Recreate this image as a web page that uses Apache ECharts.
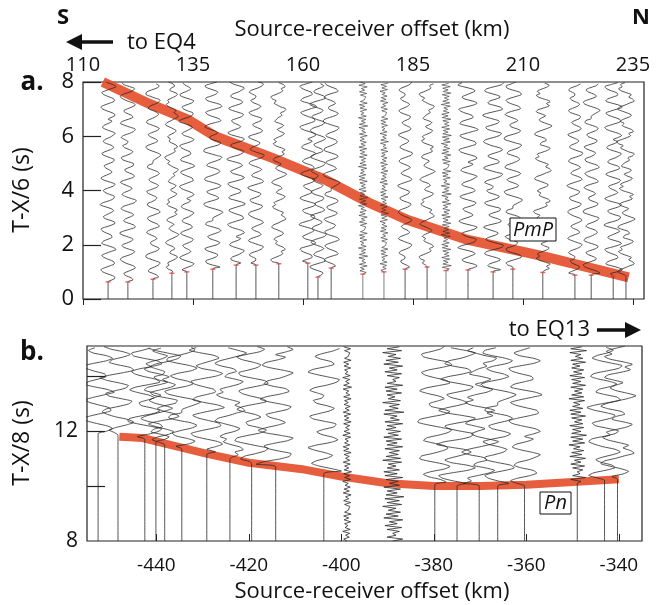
<!DOCTYPE html>
<html><head><meta charset="utf-8">
<script src="https://cdn.jsdelivr.net/npm/echarts@6/dist/echarts.min.js"></script>
<style>html,body{margin:0;padding:0;background:#fff}#c{width:663px;height:605px}</style>
</head><body><div id="c"></div>
<script>
// ---- Panel a: offsets (km), onset times (s), wiggle amplitude (km), wiggle shape id
const aX = [115.7,120.2,125.9,130.2,133.6,139.5,144.8,149.3,154.5,161.1,163.4,166.4,173.6,178.4,183.2,188.2,192.5,197.5,203.2,207.7,214.5,221.8,225.5,230.5,233.4];
const aOnset = [0.63,0.63,0.73,0.95,1.0,1.1,1.25,1.25,1.3,1.32,0.81,1.14,0.92,1.0,1.1,1.18,1.05,1.07,1.0,1.1,0.98,0.88,0.88,0.85,0.85];
const aAmp = [1.8,1.9,1.8,1.6,1.8,2.3,2.1,1.9,1.8,2.0,1.9,2.0,1.1,1.0,1.7,1.8,1.2,2.3,2.4,2.2,2.1,1.8,2.0,2.1,2.1];
const aPat = [0,1,2,4,0,2,0,1,4,0,1,2,3,3,1,4,3,0,1,2,4,1,2,0,4];
const aTicks = [110,135,160,185,210,235];
// PmP pick (km, s)
const pmpX = [114.5,125,134,140,153,165,175,184,197,214,234];
const pmpT = [8.0,7.2,6.6,6.0,5.2,4.4,3.55,2.9,2.2,1.6,0.8];

// ---- Panel b
const bX = [-452.6,-448.3,-442.5,-440.1,-438.2,-434.5,-429.1,-424.1,-419.4,-414.2,-403.8,-398.8,-388.9,-379.8,-375.0,-370.2,-366.2,-360.4,-349.0,-343.1,-340.3];
const bOnset = [11.9,11.85,11.7,11.6,11.5,11.35,11.15,10.95,10.8,10.7,10.45,8.0,8.0,10.05,10.0,10.0,10.0,10.0,10.1,10.2,10.25];
const bAmp = [3.5,3.8,4.1,3.6,3.9,4.1,3.8,3.6,4.0,4.2,3.8,1.0,2.4,4.1,4.4,4.2,4.0,3.8,2.0,3.8,4.0];
const bPat = [0,1,2,4,1,2,0,4,2,0,1,3,3,2,0,4,2,0,3,1,4];
const bTicks = [-440,-420,-400,-380,-360,-340];
// Pn pick
const pnX = [-448,-443,-437,-429,-420,-408,-400,-390,-380,-370,-360,-350,-340];
const pnT = [11.8,11.75,11.5,11.17,10.85,10.6,10.35,10.1,10.0,10.0,10.05,10.15,10.25];

// Hand-estimated wiggle shapes (normalised)
const shapeA = [0,.5,.9,.6,-.1,-.7,-.9,-.4,.3,.8,.7,.1,-.5,-.8,-.3,.4,1,.6,-.2,-.8,-.6,0,.5,.4,-.2,-.7,-.9,-.3,.5,.9,.5,-.3,-.6,-.2,.3,.7,.4,-.4,-1,-.6,.2,.7,.8,.2,-.4,-.6,-.1,.6,.9,.3,-.5,-.9,-.5,.1,.5,.2,-.3,-.5,0,.6,.8,.3,-.4,-.8,-.4,.3,.7,.5,-.2,-.6,-.4,.2,.6,.9,.4,-.3,-.7,-.5,.1,.5];
const shapeB = [0,-.4,-.8,-.5,.2,.7,.9,.3,-.4,-.9,-.6,.1,.6,.4,-.2,-.5,-.1,.5,.9,.6,-.1,-.6,-.9,-.7,0,.6,.8,.2,-.5,-.7,-.2,.4,.6,.1,-.6,-1,-.5,.3,.9,.7,0,-.5,-.3,.3,.7,.3,-.4,-.8,-.6,.1,.8,1,.4,-.3,-.7,-.4,.2,.5,.1,-.5,-.9,-.4,.4,.8,.5,-.1,-.4,0,.6,.7,.1,-.6,-.8,-.3,.3,.6,.2,-.4,-.6,-.1];
const shapeC = [0,.3,.7,1,.6,-.1,-.7,-.9,-.5,.2,.6,.3,-.3,-.6,-.2,.5,.8,.4,-.3,-.8,-.7,-.1,.4,.7,.5,-.1,-.6,-.4,.2,.7,.9,.3,-.4,-.9,-.8,-.2,.5,.8,.4,-.2,-.3,.1,.5,.2,-.4,-.8,-.5,.2,.8,.6,0,-.5,-.7,-.3,.4,.9,.7,0,-.6,-.7,-.2,.3,.5,.1,-.5,-.8,-.3,.4,.7,.3,-.3,-.5,-.1,.5,.8,.5,-.2,-.7,-.6,0];
const shapeH = [0,.6,-.5,.8,-.7,.4,-.3,.9,-.8,.5,-.6,.7,-.4,.3,-.9,.8,-.5,.6,-.7,1,-.6,.4,-.5,.7,-.8,.6,-.3,.5,-.6,.9,-.7,.4,-.8,.6,-.5,.3,-.4,.8,-.9,.7,-.6,.5,-.3,.6,-.7,.9,-.5,.4,-.6,.8,-.8,.5,-.4,.7,-.6,.3,-.5,.9,-.7,.6,-.2,.4,-.8,1,-.7,.5,-.3,.6,-.9,.7,-.4,.2,-.5,.8,-.6,.4,-.7,.9,-.5,.3];
const shapeD = [0,.4,.2,.7,.9,.3,-.2,-.6,-.3,-.8,-1,-.5,.1,.5,.3,.8,.6,0,-.4,-.2,-.6,-.3,.3,.6,.2,-.4,-.9,-.7,-.1,.4,.9,.7,.3,.6,.1,-.5,-.8,-.4,-.6,-.1,.5,.8,.3,-.3,-.1,.4,.2,-.5,-.9,-.6,0,.6,1,.5,-.1,-.4,-.1,.3,-.2,-.7,-.5,.2,.7,.4,.8,.3,-.4,-.7,-.3,-.6,-.2,.4,.7,.2,-.2,.3,.6,.1,-.5,-.3];
const shapes = [shapeA, shapeB, shapeC, shapeH, shapeD];

function trace(x, t0, tMin, tMax, amp, pat, dtReg, dtHF, start){
  const s = shapes[pat];
  const dt = pat === 3 ? dtHF : dtReg;
  const pts = [];
  if (t0 > tMin) { pts.push([x, tMin]); }
  pts.push([x, t0]);
  let k = 1;
  for (let t = t0 + dt; t <= tMax + 1e-9; t += dt, k++) {
    pts.push([x + amp * s[(start + k) % s.length], t]);
  }
  return pts;
}

const FONT = '"Open Sans", "Noto Sans", sans-serif';
const series = [];

// red picks (under the traces)
series.push({type:'line', xAxisIndex:0, yAxisIndex:0, data: pmpX.map((v,i)=>[v,pmpT[i]]), showSymbol:false, silent:true, z:1,
  lineStyle:{color:'#e4502c', width:10, cap:'butt', join:'round', opacity:0.92}});
series.push({type:'line', xAxisIndex:1, yAxisIndex:1, data: pnX.map((v,i)=>[v,pnT[i]]), showSymbol:false, silent:true, z:1,
  lineStyle:{color:'#e4502c', width:8, cap:'butt', join:'round', opacity:0.92}});

aX.forEach((x,i)=>{
  series.push({type:'line', xAxisIndex:0, yAxisIndex:0, showSymbol:false, silent:true, z:3,
    smooth: aPat[i]===3 ? 0 : 0.3,
    data: trace(x, aOnset[i], 0, 8, aAmp[i], aPat[i], 0.075, 0.06, (i*11)%80),
    lineStyle:{color:'#2a2a2a', width: aPat[i]===3 ? 0.6 : 0.8}});
});
bX.forEach((x,i)=>{
  series.push({type:'line', xAxisIndex:1, yAxisIndex:1, showSymbol:false, silent:true, z:3,
    smooth: bPat[i]===3 ? 0 : 0.2,
    data: trace(x, bOnset[i], 8, 15.1, bAmp[i], bPat[i], 0.095, 0.07, (i*13)%80),
    lineStyle:{color:'#2a2a2a', width:0.8}});
});
// small red onset ticks in panel a
series.push({type:'scatter', xAxisIndex:0, yAxisIndex:0, silent:true, z:4,
  data: aX.map((x,i)=>[x,aOnset[i]]), symbol:'rect', symbolSize:[5,1.4], itemStyle:{color:'#e0403a'}});

const axisTxt = {color:'#111', fontFamily:FONT};
const option = {
  animation:false,
  backgroundColor:'#fff',
  grid:[
    {left:83, top:82, width:561, height:217, show:true, borderColor:'#222', borderWidth:1.2, backgroundColor:'transparent'},
    {left:87, top:346, width:555, height:195, show:true, borderColor:'#222', borderWidth:1.2, backgroundColor:'transparent'}
  ],
  xAxis:[
    {gridIndex:0, type:'value', min:110, max:237.5, position:'top',
      axisLine:{show:false}, splitLine:{show:false},
      axisTick:{show:true, inside:true, length:6, customValues:aTicks, lineStyle:{color:'#222'}},
      axisLabel:Object.assign({fontSize:20, margin:7, customValues:aTicks}, axisTxt)},
    {gridIndex:1, type:'value', min:-455, max:-335, position:'bottom',
      axisLine:{show:false}, splitLine:{show:false},
      axisTick:{show:true, inside:true, length:7, customValues:bTicks, lineStyle:{color:'#222'}},
      axisLabel:Object.assign({fontSize:19, margin:15, customValues:bTicks}, axisTxt)}
  ],
  yAxis:[
    {gridIndex:0, type:'value', min:0, max:8, interval:2,
      axisLine:{show:false}, splitLine:{show:false},
      axisTick:{show:true, inside:true, length:18, lineStyle:{color:'#222', width:1.2}},
      axisLabel:Object.assign({fontSize:22, margin:9}, axisTxt)},
    {gridIndex:1, type:'value', min:8, max:15.1,
      axisLine:{show:false}, splitLine:{show:false},
      axisTick:{show:true, inside:true, length:18, customValues:[10,12,14], lineStyle:{color:'#222', width:1.2}},
      axisLabel:Object.assign({fontSize:21, margin:9, customValues:[8,12]}, axisTxt)}
  ],
  graphic:[
    {type:'text', x:63, y:18, style:{text:'S', font:'bold 22px '+FONT, fill:'#111', align:'center', verticalAlign:'middle'}},
    {type:'text', x:641, y:18, style:{text:'N', font:'bold 22px '+FONT, fill:'#111', align:'center', verticalAlign:'middle'}},
    {type:'line', shape:{x1:78, y1:42, x2:113, y2:42}, style:{stroke:'#111', lineWidth:3.5}},
    {type:'polygon', shape:{points:[[66,42],[82,34],[82,50]]}, style:{fill:'#111'}},
    {type:'text', x:127, y:43, style:{text:'to EQ4', font:'22px '+FONT, fill:'#111', align:'left', verticalAlign:'middle'}},
    {type:'text', x:372, y:30, style:{text:'Source-receiver offset (km)', font:'22px '+FONT, fill:'#111', align:'center', verticalAlign:'middle'}},
    {type:'text', x:32, y:83, style:{text:'a.', font:'bold 26px '+FONT, fill:'#111', align:'center', verticalAlign:'middle'}},
    {type:'text', x:32, y:353, style:{text:'b.', font:'bold 26px '+FONT, fill:'#111', align:'center', verticalAlign:'middle'}},
    {type:'text', x:22, y:190, rotation:Math.PI/2, style:{text:'T-X/6 (s)', font:'23px '+FONT, fill:'#111', align:'center', verticalAlign:'middle'}},
    {type:'text', x:22, y:443, rotation:Math.PI/2, style:{text:'T-X/8 (s)', font:'23px '+FONT, fill:'#111', align:'center', verticalAlign:'middle'}},
    {type:'text', x:590, y:330, style:{text:'to EQ13', font:'22px '+FONT, fill:'#111', align:'right', verticalAlign:'middle'}},
    {type:'line', shape:{x1:597, y1:330, x2:628, y2:330}, style:{stroke:'#111', lineWidth:3.5}},
    {type:'polygon', shape:{points:[[641,330],[625,322],[625,338]]}, style:{fill:'#111'}},
    {type:'text', x:372, y:592, style:{text:'Source-receiver offset (km)', font:'22px '+FONT, fill:'#111', align:'center', verticalAlign:'middle'}},
    {type:'rect', z:10, shape:{x:510, y:218, width:46, height:23}, style:{fill:'#fff', stroke:'#111', lineWidth:1}},
    {type:'text', z:11, x:533, y:230, style:{text:'PmP', font:'italic 20px '+FONT, fill:'#111', align:'center', verticalAlign:'middle'}},
    {type:'rect', z:10, shape:{x:540, y:492, width:31, height:22}, style:{fill:'#fff', stroke:'#111', lineWidth:1}},
    {type:'text', z:11, x:555.5, y:503, style:{text:'Pn', font:'italic 20px '+FONT, fill:'#111', align:'center', verticalAlign:'middle'}}
  ],
  series: series
};
const chart = echarts.init(document.getElementById('c'), null, {renderer:'canvas'});
chart.setOption(option);
</script></body></html>
